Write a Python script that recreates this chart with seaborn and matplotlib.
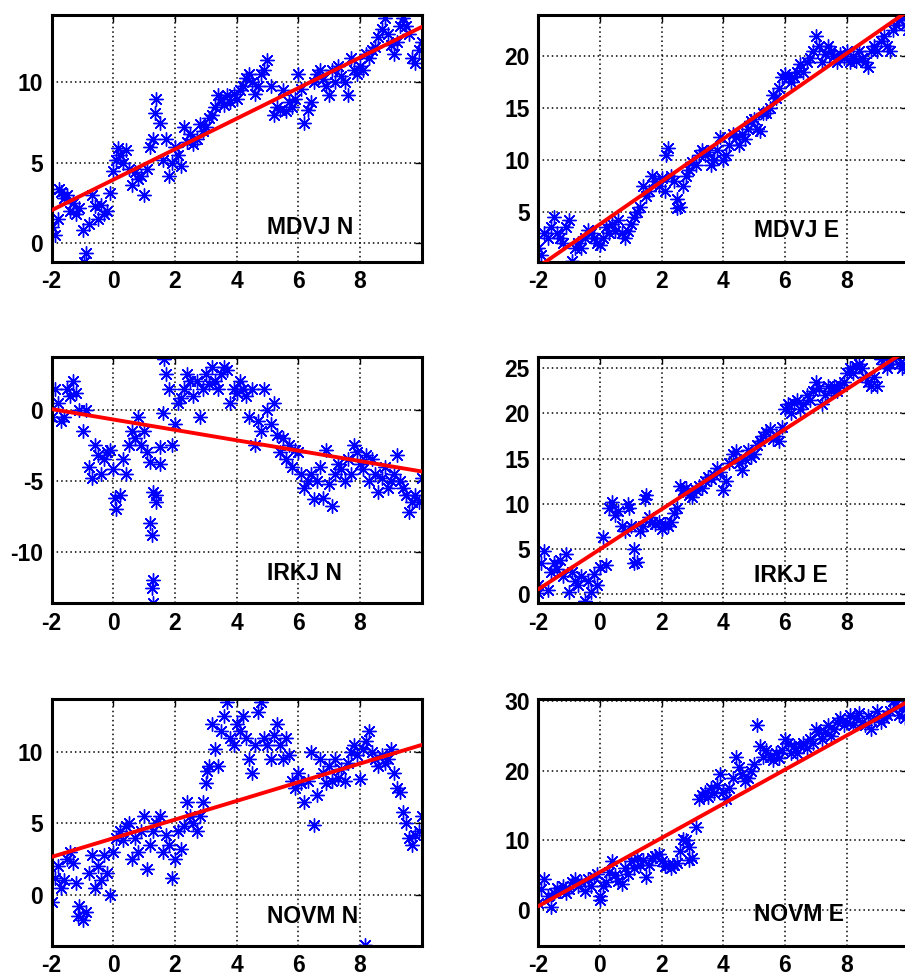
import pandas as pd
import seaborn as sns
import matplotlib.pyplot as plt

# sample times (years)
t = [-2.0, -1.9, -1.8, -1.7, -1.6, -1.5, -1.4, -1.3, -1.2, -1.1,
     -1.0, -0.9, -0.8, -0.7, -0.6, -0.5, -0.4, -0.3, -0.2, -0.1,
     0.0, 0.1, 0.2, 0.3, 0.4, 0.5, 0.6, 0.7, 0.8, 0.9,
     1.0, 1.1, 1.2, 1.3, 1.4, 1.5, 1.6, 1.7, 1.8, 1.9,
     2.0, 2.1, 2.2, 2.3, 2.4, 2.5, 2.6, 2.7, 2.8, 2.9,
     3.0, 3.1, 3.2, 3.3, 3.4, 3.5, 3.6, 3.7, 3.8, 3.9,
     4.0, 4.1, 4.2, 4.3, 4.4, 4.5, 4.6, 4.7, 4.8, 4.9,
     5.0, 5.1, 5.2, 5.3, 5.4, 5.5, 5.6, 5.7, 5.8, 5.9,
     6.0, 6.1, 6.2, 6.3, 6.4, 6.5, 6.6, 6.7, 6.8, 6.9,
     7.0, 7.1, 7.2, 7.3, 7.4, 7.5, 7.6, 7.7, 7.8, 7.9,
     8.0, 8.1, 8.2, 8.3, 8.4, 8.5, 8.6, 8.7, 8.8, 8.9,
     9.0, 9.1, 9.2, 9.3, 9.4, 9.5, 9.6, 9.7, 9.8, 9.9,
     10.0]

mdvj_n = [1.0, 0.5, 1.5, 3.2, 2.8, 3.0, 2.0, 2.5, 1.8, 2.2,
          0.8, -0.6, 1.2, 3.0, 2.3, 1.5, 2.4, 1.8, 2.0, 3.1,
          4.5, 5.2, 5.5, 5.0, 5.8, 4.6, 3.6, 4.4, 4.0, 4.2,
          3.0, 4.6, 6.0, 6.5, 9.0, 7.5, 5.2, 6.5, 4.2, 5.0,
          6.0, 5.5, 4.8, 7.2, 6.3, 6.8, 6.2, 6.5, 7.4, 7.0,
          7.2, 7.8, 8.0, 8.5, 9.2, 9.0, 8.6, 9.2, 8.8, 9.3,
          9.0, 9.5, 9.8, 10.3, 10.5, 10.0, 9.3, 9.8, 10.5, 10.8,
          11.4, 9.8, 8.0, 8.5, 8.3, 9.5, 8.2, 8.8, 8.5, 9.0,
          10.5, 9.6, 7.5, 8.3, 8.8, 10.0, 10.5, 10.8, 10.2, 9.8,
          9.2, 10.8, 10.0, 11.0, 10.4, 10.0, 9.2, 11.5, 10.8, 10.5,
          11.0, 10.8, 11.8, 11.5, 12.0, 12.2, 12.8, 13.3, 14.0, 13.0,
          12.3, 11.8, 12.5, 13.5, 14.0, 13.5, 13.0, 11.5, 11.2, 12.0,
          12.5]
mdvj_n_out_t = [-0.95, 1.35, -1.75, 0.15]
mdvj_n_out_v = [-1.2, 8.1, 3.4, 5.9]

mdvj_e = [1.5, 0.8, 3.0, 2.5, 3.5, 4.5, 3.0, 2.5, 2.0, 3.5,
          4.2, 0.3, 1.5, 2.0, 1.5, 2.5, 3.3, 3.0, 2.5, 2.0,
          1.8, 2.5, 3.5, 3.0, 3.8, 3.2, 4.2, 3.0, 2.5, 3.2,
          3.8, 4.5, 5.0, 5.5, 7.5, 6.5, 7.0, 8.5, 8.0, 7.5,
          8.3, 7.0, 11.2, 8.5, 8.0, 6.2, 5.5, 7.5, 8.5, 9.0,
          9.8, 9.5, 10.5, 11.0, 10.5, 10.8, 9.5, 10.0, 11.0, 12.2,
          10.0, 10.5, 11.5, 12.5, 12.2, 11.5, 12.5, 12.0, 13.0, 13.8,
          14.0, 13.0, 12.8, 14.5, 14.5, 15.0, 16.3, 16.0, 17.0, 18.0,
          18.3, 18.0, 17.5, 18.0, 18.5, 19.3, 18.5, 19.5, 19.8, 20.5,
          22.0, 21.0, 19.5, 20.2, 21.0, 20.5, 20.0, 19.5, 20.2, 19.8,
          20.5, 19.5, 20.0, 19.6, 20.5, 19.8, 19.5, 19.0, 20.5, 21.0,
          20.5, 21.5, 22.0, 21.0, 20.5, 22.5, 23.0, 23.5, 23.8, 23.0,
          22.5]
mdvj_e_out_t = [2.15, 2.5]
mdvj_e_out_v = [10.5, 5.4]

irkj_n = [-0.5, 1.5, 0.5, -0.8, -0.5, 1.5, 1.0, 2.0, 1.2, 0.0,
          -1.5, 0.0, -4.0, -4.8, -2.5, -3.2, -4.5, -3.5, -3.0, -2.8,
          -4.2, -7.0, -6.0, -3.5, -4.5, -2.5, -1.5, -2.0, -0.5, -2.5,
          -1.5, -3.0, -3.7, -5.8, -6.5, -3.8, -0.2, 2.5, 1.5, -2.5,
          -1.0, 0.5, 0.8, 1.5, 2.5, 2.0, 1.0, 2.0, -0.5, 1.5,
          2.5, 1.8, 3.0, 2.0, 1.5, 2.5, 3.0, 2.8, 0.5, 1.5,
          1.2, 2.0, 1.5, 1.0, -0.5, 1.5, -2.5, -0.8, -1.5, 1.5,
          0.0, -1.0, 0.5, -1.8, -3.0, -2.0, -3.5, -2.5, -4.0, -2.8,
          -3.0, -4.5, -5.5, -5.0, -4.5, -6.3, -5.0, -4.0, -6.2, -2.8,
          -5.2, -6.8, -4.5, -3.8, -4.2, -5.0, -3.5, -4.5, -2.5, -3.0,
          -3.8, -4.2, -3.2, -5.0, -3.5, -4.5, -5.8, -4.8, -4.0, -5.5,
          -5.0, -4.5, -3.2, -5.0, -5.5, -6.0, -7.2, -6.5, -6.0, -6.5,
          -4.8]
irkj_n_out_t = [1.2, 1.25, 1.3, 1.25, 1.3, 0.05, 1.65, 1.4, 1.5]
irkj_n_out_v = [-8.0, -8.8, -12.0, -12.6, -13.6, -6.2, 3.6, -6.0, -2.6]

irkj_e = [1.0, 3.5, 4.8, 0.5, 2.5, 3.5, 2.8, 3.8, 2.0, 4.5,
          0.2, 2.5, 1.5, 1.0, 2.0, -0.8, 1.5, 0.2, 2.2, 1.0,
          3.0, 6.3, 3.2, 9.5, 10.2, 8.8, 9.2, 7.5, 7.0, 10.0,
          7.5, 5.0, 3.6, 7.0, 7.5, 11.0, 8.5, 8.0, 7.8, 8.0,
          7.2, 7.8, 7.5, 8.0, 9.0, 9.5, 12.0, 11.5, 11.8, 11.0,
          10.8, 11.5, 12.0, 11.8, 12.5, 13.0, 12.8, 13.2, 14.0, 13.5,
          11.5, 12.5, 14.5, 15.5, 15.8, 14.5, 13.8, 15.0, 16.0, 15.2,
          15.5, 16.5, 17.0, 17.5, 18.0, 18.3, 17.2, 17.5, 17.0, 18.5,
          20.5, 21.0, 20.0, 21.2, 21.5, 20.5, 21.0, 22.0, 21.5, 22.5,
          23.5, 22.8, 21.0, 22.0, 23.0, 22.5, 23.0, 22.5, 23.2, 23.5,
          24.5, 25.0, 24.5, 25.2, 25.5, 25.0, 24.0, 23.5, 23.0, 24.0,
          23.0, 26.0, 25.5, 25.0, 25.5, 26.0, 26.2, 25.5, 25.0, 25.5,
          25.0]
irkj_e_out_t = [-2.0, 1.1, 0.95, 1.45]
irkj_e_out_v = [0.1, 3.4, 9.5, 10.5]

novm_n = [-0.5, 1.2, 2.0, 0.5, 1.0, 2.5, 3.0, 2.2, 0.8, -0.8,
          -1.8, -1.2, 1.5, 2.8, 0.5, 2.0, 1.0, 2.8, 1.5, 0.0,
          3.0, 4.0, 4.5, 3.8, 4.8, 5.0, 2.5, 4.0, 3.0, 4.5,
          5.5, 1.8, 3.5, 4.5, 5.0, 5.5, 3.0, 4.2, 3.5, 1.2,
          2.5, 4.5, 3.2, 4.8, 6.5, 5.5, 5.0, 4.5, 5.5, 6.5,
          7.8, 9.0, 12.0, 10.2, 9.0, 11.5, 12.5, 13.5, 11.0, 10.5,
          12.0, 11.5, 12.5, 11.0, 9.5, 8.5, 10.5, 12.8, 13.5, 11.0,
          10.5, 9.5, 11.2, 12.0, 10.5, 9.5, 11.0, 9.8, 8.0, 7.5,
          8.5, 7.8, 6.5, 8.0, 10.0, 4.9, 7.0, 9.5, 8.5, 7.8,
          9.0, 8.0, 9.5, 8.2, 8.8, 8.0, 9.2, 10.0, 10.5, 9.8,
          8.1, 10.2, 10.8, 11.5, 10.0, 9.5, 9.0, 9.8, 9.2, 9.5,
          10.2, 8.5, 7.5, 7.2, 5.8, 5.0, 4.0, 3.5, 4.2, 4.5,
          5.5]
novm_n_out_t = [8.15, -1.15, 3.05]
novm_n_out_v = [-3.5, -1.5, 8.7]

novm_e = [1.0, 3.0, 4.5, 2.0, 0.5, 2.5, 3.2, 2.8, 3.5, 2.5,
          3.0, 4.0, 4.5, 3.5, 4.0, 2.8, 4.5, 3.5, 4.8, 5.2,
          2.0, 3.5, 4.0, 5.5, 7.0, 5.0, 4.2, 3.8, 6.0, 5.2,
          7.0, 6.0, 7.5, 6.5, 7.2, 4.8, 6.5, 7.5, 7.8, 8.0,
          7.0, 6.3, 6.5, 6.0, 6.5, 6.8, 8.5, 10.2, 10.0, 9.0,
          7.5, 12.0, 16.0, 16.5, 17.0, 16.2, 17.5, 16.8, 18.0, 19.5,
          17.0, 16.0, 17.5, 19.0, 22.0, 20.5, 19.5, 18.5, 19.0, 20.0,
          21.0, 26.5, 23.5, 22.0, 23.0, 22.0, 21.5, 22.5, 21.8, 23.0,
          24.5, 24.0, 22.5, 23.5, 22.5, 23.5, 24.0, 23.2, 24.5, 24.0,
          26.0, 25.5, 24.5, 25.5, 26.5, 25.0, 26.0, 27.0, 27.5, 26.5,
          27.0, 28.0, 26.5, 27.5, 28.2, 27.0, 26.5, 27.8, 26.0, 27.5,
          28.5, 27.0, 27.5, 28.0, 28.5, 30.0, 29.5, 28.0, 29.0, 27.5,
          28.5]
novm_e_out_t = [0.0, 2.9]
novm_e_out_v = [1.5, 7.2]

# linear trend values at the first and last sample time
mdvj_n_fit = [2.05, 13.45]
mdvj_e_fit = [-0.3, 24.4]
irkj_n_fit = [0.05, -4.35]
irkj_e_fit = [0.55, 27.1]
novm_n_fit = [2.65, 10.5]
novm_e_fit = [0.6, 29.9]

panels = [
    ("MDVJ N", mdvj_n, mdvj_n_out_t, mdvj_n_out_v, mdvj_n_fit, (-1.15, 14.2), [0, 5, 10], 0.137),
    ("MDVJ E", mdvj_e, mdvj_e_out_t, mdvj_e_out_v, mdvj_e_fit, (0.2, 24.0), [5, 10, 15, 20], 0.128),
    ("IRKJ N", irkj_n, irkj_n_out_t, irkj_n_out_v, irkj_n_fit, (-13.65, 3.76), [-10, -5, 0], 0.119),
    ("IRKJ E", irkj_e, irkj_e_out_t, irkj_e_out_v, irkj_e_fit, (-1.0, 26.3), [0, 5, 10, 15, 20, 25], 0.112),
    ("NOVM N", novm_n, novm_n_out_t, novm_n_out_v, novm_n_fit, (-3.6, 13.7), [0, 5, 10], 0.118),
    ("NOVM E", novm_e, novm_e_out_t, novm_e_out_v, novm_e_fit, (-5.1, 30.2), [0, 10, 20, 30], 0.128),
]

# axes rectangles in figure fractions (right column runs past the edge)
lefts = [0.0571, 0.5948]
bottoms = [0.7319, 0.3819, 0.0307]
w, h = 0.4088, 0.2528

sns.set_theme(style="white")
plt.rcParams['font.family'] = ['Liberation Sans', 'DejaVu Sans']
plt.rcParams['font.weight'] = 'bold'
plt.rcParams['axes.unicode_minus'] = False

fig = plt.figure(figsize=(9.05, 9.76), dpi=100)

for i, (name, vals, out_t, out_v, fit, ylim, yticks, label_y) in enumerate(panels):
    ax = fig.add_axes([lefts[i % 2], bottoms[i // 2], w, h])
    df = pd.DataFrame({'t': t + out_t, 'v': vals + out_v})
    sns.scatterplot(data=df, x='t', y='v', marker=(8, 2, 0), s=95, color='blue',
                    edgecolor='blue', linewidth=1.0, ax=ax, zorder=2)
    sns.lineplot(x=[t[0], t[-1]], y=fit, color='red', linewidth=2.8, ax=ax, zorder=3)
    ax.set_xlim(-2, 10)
    ax.set_ylim(*ylim)
    ax.set_xticks([-2, 0, 2, 4, 6, 8])
    ax.set_yticks(yticks)
    ax.set_axisbelow(True)
    ax.grid(True, color='black', linestyle=(0, (1, 2)), linewidth=1.1)
    for sp in ax.spines.values():
        sp.set_linewidth(2.2)
        sp.set_color('black')
    ax.tick_params(direction='in', length=5, width=1, top=True, right=True,
                   labelsize=16.5, pad=6, colors='black')
    for lab in ax.get_xticklabels() + ax.get_yticklabels():
        lab.set_fontweight('bold')
    ax.set_xlabel('')
    ax.set_ylabel('')
    ax.text(5, label_y, name, transform=ax.get_xaxis_transform(), fontsize=16.5,
            fontweight='bold', ha='left', va='center', color='black')

plt.savefig('out.png', dpi=100)
plt.close()
